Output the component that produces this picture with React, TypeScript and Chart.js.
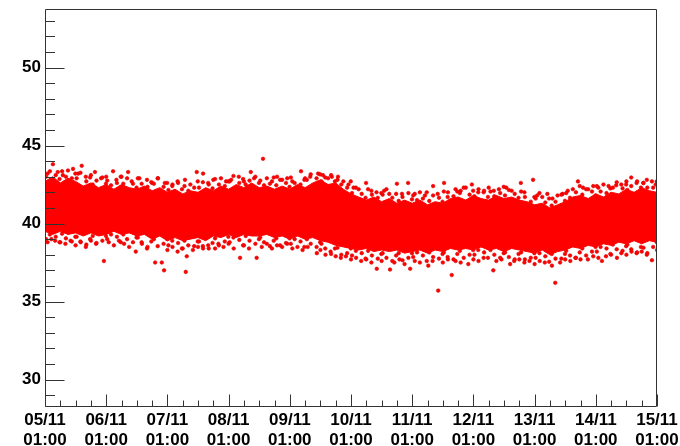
import { useEffect, useRef } from 'react';
import { Chart, registerables } from 'chart.js';

Chart.register(...registerables);

// X axis: hours since 05/11 01:00 ; tick labels per day
const dayLabels = ['05/11', '06/11', '07/11', '08/11', '09/11', '10/11', '11/11', '12/11', '13/11', '14/11', '15/11'];
const timeOfDayLabel = '01:00';
const yTickValues = [30, 35, 40, 45, 50];

// Dense core of the measurement band (hours, upper edge, lower edge)
const coreHours = [0, 3, 6, 9, 12, 15, 18, 21, 24, 27, 30, 33, 36, 39, 42, 45, 48, 51, 54, 57, 60, 63, 66, 69, 72, 75, 78, 81, 84, 87, 90, 93, 96, 99, 102, 105, 108, 111, 114, 117, 120, 123, 126, 129, 132, 135, 138, 141, 144, 147, 150, 153, 156, 159, 162, 165, 168, 171, 174, 177, 180, 183, 186, 189, 192, 195, 198, 201, 204, 207, 210, 213, 216, 219, 222, 225, 228, 231, 234, 237, 240];
const coreUpper = [42.7, 43.0, 42.6, 42.9, 42.7, 42.4, 42.6, 42.3, 42.5, 42.2, 42.5, 42.3, 42.2, 42.4, 42.1, 42.3, 42.0, 42.2, 41.9, 42.1, 42.0, 42.3, 42.1, 42.4, 42.2, 42.5, 42.3, 42.6, 42.3, 42.4, 42.2, 42.4, 42.2, 42.5, 42.3, 42.6, 42.8, 42.5, 42.6, 42.2, 41.9, 41.7, 41.5, 41.7, 41.4, 41.6, 41.3, 41.5, 41.3, 41.5, 41.2, 41.4, 41.3, 41.6, 41.7, 41.5, 41.8, 41.6, 41.5, 41.8, 41.6, 41.7, 41.5, 41.4, 41.2, 41.3, 41.0, 41.2, 41.4, 41.7, 41.8, 41.6, 41.9, 41.7, 42.0, 41.9, 42.2, 42.0, 42.3, 42.1, 42.0];
const coreLower = [39.5, 39.3, 39.5, 39.3, 39.4, 39.2, 39.4, 39.2, 39.3, 39.5, 39.3, 39.4, 39.2, 39.3, 39.0, 39.2, 38.9, 39.1, 38.9, 39.0, 39.1, 38.9, 39.2, 39.1, 39.3, 39.1, 39.3, 39.2, 39.2, 39.3, 39.1, 39.2, 39.0, 39.2, 39.0, 39.1, 38.9, 38.8, 38.6, 38.5, 38.4, 38.3, 38.4, 38.2, 38.3, 38.2, 38.3, 38.1, 38.2, 38.3, 38.1, 38.3, 38.2, 38.4, 38.3, 38.4, 38.3, 38.5, 38.3, 38.4, 38.2, 38.4, 38.3, 38.2, 38.1, 38.3, 38.0, 38.2, 38.3, 38.5, 38.4, 38.6, 38.5, 38.7, 38.6, 38.8, 38.7, 38.9, 38.7, 38.9, 38.8];

// Points crowding the fringes of the core
const edgeHours = [0.4, 1.9, 4.2, 5.7, 6.7, 8.2, 10.5, 11.9, 12.4, 13.9, 16.2, 17.7, 18.7, 20.2, 22.5, 23.9, 24.4, 25.9, 28.2, 29.7, 30.7, 32.2, 34.5, 35.9, 36.4, 37.9, 40.2, 41.7, 42.7, 44.2, 46.5, 47.9, 48.4, 49.9, 52.2, 53.7, 54.7, 56.2, 58.5, 59.9, 60.4, 61.9, 64.2, 65.7, 66.7, 68.2, 70.5, 71.9, 72.4, 73.9, 76.2, 77.7, 78.7, 80.2, 82.5, 83.9, 84.4, 85.9, 88.2, 89.7, 90.7, 92.2, 94.5, 95.9, 96.4, 97.9, 100.2, 101.7, 102.7, 104.2, 106.5, 107.9, 108.4, 109.9, 112.2, 113.7, 114.7, 116.2, 118.5, 119.9, 120.4, 121.9, 124.2, 125.7, 126.7, 128.2, 130.5, 131.9, 132.4, 133.9, 136.2, 137.7, 138.7, 140.2, 142.5, 143.9, 144.4, 145.9, 148.2, 149.7, 150.7, 152.2, 154.5, 155.9, 156.4, 157.9, 160.2, 161.7, 162.7, 164.2, 166.5, 167.9, 168.4, 169.9, 172.2, 173.7, 174.7, 176.2, 178.5, 179.9, 180.4, 181.9, 184.2, 185.7, 186.7, 188.2, 190.5, 191.9, 192.4, 193.9, 196.2, 197.7, 198.7, 200.2, 202.5, 203.9, 204.4, 205.9, 208.2, 209.7, 210.7, 212.2, 214.5, 215.9, 216.4, 217.9, 220.2, 221.7, 222.7, 224.2, 226.5, 227.9, 228.4, 229.9, 232.2, 233.7, 234.7, 236.2, 238.5, 239.9];
const upperEdgeValues = [43.0, 43.35, 43.1, 42.85, 43.35, 43.0, 42.9, 43.2, 42.9, 43.25, 42.7, 42.95, 42.5, 42.75, 42.95, 42.55, 42.75, 42.45, 42.6, 43.0, 42.55, 42.9, 42.55, 42.3, 42.9, 42.55, 42.35, 42.65, 42.55, 42.9, 42.35, 42.6, 42.15, 42.4, 42.6, 42.2, 42.4, 42.1, 42.3, 42.7, 42.3, 42.65, 42.5, 42.25, 42.85, 42.5, 42.4, 42.7, 42.7, 43.05, 42.6, 42.85, 42.5, 42.75, 43.0, 42.6, 42.75, 42.45, 42.55, 42.95, 42.45, 42.8, 42.6, 42.35, 42.95, 42.6, 42.5, 42.8, 42.8, 43.15, 42.9, 43.15, 42.7, 42.95, 43.1, 42.7, 42.8, 42.5, 42.3, 42.7, 41.95, 42.3, 41.9, 41.65, 42.2, 41.85, 41.65, 41.95, 41.85, 42.2, 41.65, 41.9, 41.45, 41.7, 41.95, 41.55, 41.8, 41.5, 41.6, 42.0, 41.45, 41.8, 41.65, 41.4, 42.05, 41.7, 41.75, 42.05, 41.95, 42.3, 41.85, 42.1, 41.75, 42.0, 42.1, 41.7, 42.05, 41.75, 41.95, 42.35, 41.8, 42.15, 41.9, 41.65, 42.05, 41.7, 41.4, 41.7, 41.6, 41.95, 41.35, 41.6, 41.15, 41.4, 41.85, 41.45, 41.95, 41.65, 42.0, 42.4, 41.85, 42.2, 42.05, 41.8, 42.4, 42.05, 41.95, 42.25, 42.3, 42.65, 42.25, 42.5, 42.15, 42.4, 42.7, 42.3, 42.6, 42.3, 42.3, 42.7];
const lowerEdgeValues = [39.0, 39.3, 39.15, 38.8, 39.35, 39.05, 38.85, 39.15, 39.15, 38.85, 38.65, 39.0, 39.2, 38.75, 38.9, 39.2, 39.0, 39.3, 39.15, 38.8, 39.3, 39.0, 38.8, 39.1, 39.1, 38.8, 38.5, 38.85, 39.0, 38.55, 38.7, 39.0, 38.6, 38.9, 38.75, 38.4, 38.9, 38.6, 38.55, 38.85, 38.85, 38.55, 38.4, 38.75, 39.05, 38.6, 38.85, 39.15, 38.8, 39.1, 38.95, 38.6, 39.2, 38.9, 38.7, 39.0, 39.1, 38.8, 38.55, 38.9, 39.05, 38.6, 38.75, 39.05, 38.7, 39.0, 38.85, 38.5, 39.0, 38.7, 38.5, 38.8, 38.7, 38.4, 38.05, 38.4, 38.45, 38.0, 38.1, 38.4, 37.95, 38.25, 38.1, 37.75, 38.25, 37.95, 37.75, 38.05, 38.1, 37.8, 37.6, 37.95, 38.1, 37.65, 37.8, 38.1, 37.85, 38.15, 37.95, 37.6, 38.15, 37.85, 37.75, 38.05, 38.15, 37.85, 37.7, 38.05, 38.25, 37.8, 38.0, 38.3, 38.0, 38.3, 38.15, 37.8, 38.3, 38.0, 37.8, 38.1, 38.15, 37.85, 37.7, 38.05, 38.15, 37.7, 37.8, 38.1, 37.8, 38.1, 37.9, 37.55, 38.05, 37.75, 37.75, 38.05, 38.25, 37.95, 37.8, 38.15, 38.4, 37.95, 38.2, 38.5, 38.2, 38.5, 38.4, 38.05, 38.65, 38.35, 38.25, 38.55, 38.65, 38.35, 38.15, 38.5, 38.45, 38.1, 38.5, 38.8];

// Scattered points above the dense core
const upperSpeckleHours = [1, 3.1, 5, 7, 9, 11, 13, 14.4, 16, 18, 19.6, 22, 24, 26.7, 28, 30, 32.6, 34, 37, 40, 42, 44.3, 47, 50, 52, 54.9, 57, 59.5, 62, 64, 66, 69, 71, 73, 76, 78, 80.7, 82, 85.5, 87, 89, 91, 93, 95, 97, 100.4, 102, 104, 107.1, 109, 111, 112.5, 114.9, 117, 119, 121, 123, 125.9, 128, 130, 133, 135, 138, 140, 142.4, 145, 147, 149, 152.2, 154, 156.5, 158, 161, 163, 165, 167.4, 170, 172, 174, 176, 178, 180.9, 183, 186.6, 188, 191.4, 193, 195, 197, 199, 201, 203, 205, 207, 209, 211, 213, 215, 217, 219, 221, 224, 226, 228, 229.9, 232, 234.6, 236, 238, 239.5];
const upperSpeckleValues = [43.2, 43.8, 43.3, 43.1, 43.4, 43.5, 43.2, 43.7, 43.0, 43.1, 43.3, 42.9, 43.0, 43.35, 42.8, 43.0, 43.3, 42.7, 42.9, 42.8, 42.6, 42.9, 42.6, 42.5, 42.7, 42.8, 42.5, 43.3, 43.2, 42.6, 42.8, 42.9, 42.7, 42.8, 43.0, 42.7, 43.3, 42.9, 44.15, 42.9, 42.7, 43.0, 42.8, 42.9, 42.7, 43.35, 42.9, 43.0, 43.2, 43.1, 42.9, 43.0, 43.0, 42.7, 42.5, 42.3, 42.2, 42.6, 42.1, 42.0, 42.1, 41.9, 42.55, 41.9, 42.6, 41.9, 42.0, 41.8, 42.4, 41.9, 42.6, 42.0, 42.2, 42.1, 42.3, 42.5, 42.2, 42.0, 42.3, 42.1, 42.2, 42.3, 42.1, 42.6, 42.0, 42.8, 41.8, 41.7, 41.9, 41.6, 41.8, 41.9, 42.1, 42.2, 42.7, 42.3, 42.2, 42.4, 42.3, 42.5, 42.4, 42.45, 42.5, 42.7, 42.95, 42.6, 42.6, 42.8, 42.7, 42.5];

// Scattered points below the dense core
const lowerSpeckleHours = [1, 2.5, 4, 6, 8, 10, 12, 14, 16, 18, 20, 23.1, 25, 27, 29, 31, 33, 35.6, 38, 40, 43.2, 45.8, 46.7, 48, 50, 52, 54, 55.2, 55.6, 58, 60, 62, 64, 66.7, 68, 70, 72, 74, 76.5, 78, 80, 83, 85, 87, 89, 91, 93, 95, 97, 99, 101, 103, 106.6, 108, 110, 112, 114, 116, 118, 120, 122, 124, 126, 128, 130.1, 132, 135.3, 137, 139, 141, 143.2, 145, 147, 150.3, 152, 154.2, 156, 158, 159.5, 161, 163, 166, 168, 170, 172, 175.8, 177, 179, 182.4, 184, 186, 188, 190, 192, 194, 196, 198.8, 200.1, 202, 204, 206, 208, 210, 212.9, 215, 217, 218.4, 220, 222, 224.3, 226, 228, 230, 232, 234, 236, 238, 240];
const lowerSpeckleValues = [38.8, 39.0, 38.9, 38.8, 38.7, 38.9, 38.6, 38.8, 38.5, 38.9, 38.7, 37.6, 38.8, 38.6, 38.9, 38.7, 38.5, 38.2, 38.7, 38.4, 37.5, 37.5, 37.0, 38.3, 38.5, 38.2, 38.4, 36.9, 37.9, 38.3, 38.5, 38.4, 38.6, 38.4, 38.7, 38.5, 38.7, 38.4, 37.8, 38.6, 38.4, 37.8, 38.5, 38.7, 38.4, 38.6, 38.5, 38.7, 38.4, 38.5, 38.3, 38.5, 38.1, 38.3, 38.0, 38.2, 37.9, 37.8, 37.9, 37.7, 37.8, 37.6, 37.7, 37.5, 37.1, 37.6, 37.05, 37.5, 37.7, 37.4, 37.1, 37.6, 37.5, 37.3, 37.6, 35.7, 37.5, 37.7, 36.7, 37.6, 37.5, 37.4, 37.7, 37.6, 37.8, 37.0, 37.6, 37.7, 37.4, 37.6, 37.7, 37.5, 37.6, 37.4, 37.6, 37.5, 37.3, 36.2, 37.5, 37.7, 37.6, 37.8, 37.7, 37.7, 37.9, 37.8, 37.6, 37.9, 38.0, 37.8, 38.1, 38.0, 38.2, 38.1, 38.2, 38.0, 37.65, 38.3];

const RED = '#ff0000';
const DOT_EDGE = '#dd0000';
const FONT = { family: '"Liberation Sans", Arial, Helvetica, sans-serif', size: 17, weight: 'bold' as const };

const rootFramePlugin = {
  id: 'rootFrame',
  afterDatasetsDraw(chart: any) {
    const { ctx, chartArea: a, scales } = chart;
    const x = scales.x;
    const y = scales.y;
    ctx.save();
    ctx.strokeStyle = '#333333';
    ctx.lineWidth = 1;
    const L = Math.round(a.left) + 0.5;
    const R = Math.round(a.right) - 0.5;
    const T = Math.round(a.top) + 0.5;
    const B = Math.round(a.bottom) - 0.5;
    ctx.beginPath();
    ctx.moveTo(L, T); ctx.lineTo(R, T); ctx.lineTo(R, B); ctx.lineTo(L, B); ctx.closePath();
    ctx.stroke();
    ctx.beginPath();
    for (let v = Math.ceil(y.min); v <= Math.floor(y.max); v++) {
      const py = Math.round(y.getPixelForValue(v)) + 0.5;
      const len = v % 5 === 0 ? 19 : 9.5;
      ctx.moveTo(L, py); ctx.lineTo(L + len, py);
    }
    for (let h = 0; h <= x.max; h += 6) {
      const px = Math.round(x.getPixelForValue(h)) + 0.5;
      const len = h % 24 === 0 ? 12 : 6;
      ctx.moveTo(px, B); ctx.lineTo(px, B - len);
    }
    ctx.stroke();
    ctx.restore();
  },
};

const toPoints = (xs: number[], ys: number[]) => xs.map((x, i) => ({ x, y: ys[i] }));

export default function App() {
  const ref = useRef<HTMLCanvasElement | null>(null);
  useEffect(() => {
    document.body.style.margin = '0';
    const canvas = ref.current;
    if (!canvas) return;
    const dots = {
      backgroundColor: RED,
      borderColor: DOT_EDGE,
      borderWidth: 0.6,
      pointRadius: 1.8,
    };
    const chart = new Chart(canvas, {
      type: 'scatter',
      data: {
        datasets: [
          {
            type: 'line',
            data: toPoints(coreHours, coreUpper),
            fill: '+1',
            backgroundColor: RED,
            borderColor: RED,
            borderWidth: 1,
            pointRadius: 0,
            tension: 0,
          } as any,
          {
            type: 'line',
            data: toPoints(coreHours, coreLower),
            fill: false,
            borderColor: RED,
            borderWidth: 1,
            pointRadius: 0,
            tension: 0,
          } as any,
          { data: toPoints(edgeHours, upperEdgeValues), ...dots },
          { data: toPoints(edgeHours, lowerEdgeValues), ...dots },
          { data: toPoints(upperSpeckleHours, upperSpeckleValues), ...dots },
          { data: toPoints(lowerSpeckleHours, lowerSpeckleValues), ...dots },
        ],
      },
      options: {
        animation: false,
        responsive: false,
        devicePixelRatio: 1,
        layout: { padding: { top: 9, right: 23, left: 0, bottom: 0 } },
        plugins: { legend: { display: false }, tooltip: { enabled: false } },
        scales: {
          x: {
            type: 'linear',
            min: 0,
            max: 240,
            grid: { display: false, drawTicks: false },
            border: { display: false },
            afterFit: (s: any) => {
              s.height = 39;
              s.paddingLeft = 0;
              s.paddingRight = 0;
            },
            ticks: {
              stepSize: 24,
              autoSkip: false,
              maxRotation: 0,
              minRotation: 0,
              padding: 3,
              color: '#000',
              font: { ...FONT, lineHeight: 1.2 },
              callback: (v: any) => {
                const idx = Math.round(Number(v) / 24);
                return [dayLabels[idx] ?? '', timeOfDayLabel];
              },
            },
          },
          y: {
            type: 'linear',
            min: 28.24,
            max: 53.75,
            grid: { display: false, drawTicks: false },
            border: { display: false },
            afterFit: (s: any) => {
              s.width = 45;
              s.paddingTop = 0;
              s.paddingBottom = 0;
            },
            afterBuildTicks: (s: any) => { s.ticks = yTickValues.map((v) => ({ value: v })); },
            ticks: {
              padding: 4,
              color: '#000',
              font: FONT,
              callback: (v: any) => String(v),
            },
          },
        },
      },
      plugins: [rootFramePlugin],
    });
    return () => chart.destroy();
  }, []);
  return (
    <div style={{ width: 680, height: 446, background: '#fff' }}>
      <canvas ref={ref} width={680} height={446} style={{ display: 'block' }} />
    </div>
  );
}
